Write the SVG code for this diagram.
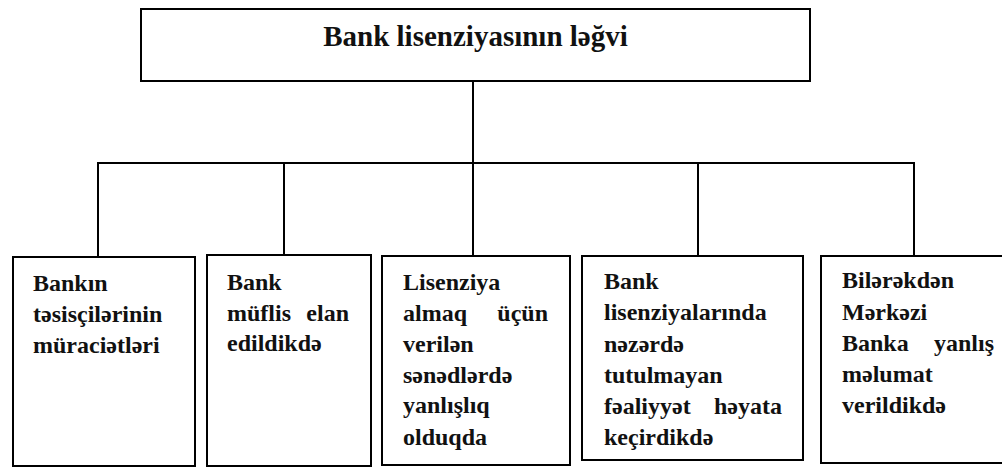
<svg xmlns="http://www.w3.org/2000/svg" width="1002" height="468" viewBox="0 0 1002 468">
<style>
.box{fill:#fff;stroke:#000;stroke-width:2}
.ln{stroke:#000;stroke-width:2;fill:none}
.t{font-family:"Liberation Serif","Times New Roman",serif;font-weight:bold;font-size:24px;fill:#111}
.title{font-family:"Liberation Serif","Times New Roman",serif;font-weight:bold;font-size:29px;fill:#111}
.e{text-anchor:end}
</style>
<rect width="1002" height="468" fill="#fff"/>
<g id="connectors">
<line class="ln" x1="473" y1="81" x2="473" y2="163"/>
<line class="ln" x1="97" y1="163" x2="915" y2="163"/>
<line class="ln" x1="98" y1="163" x2="98" y2="257"/>
<line class="ln" x1="284" y1="163" x2="284" y2="255"/>
<line class="ln" x1="473" y1="163" x2="473" y2="256"/>
<line class="ln" x1="698" y1="163" x2="698" y2="256"/>
<line class="ln" x1="914" y1="163" x2="914" y2="256"/>
</g>
<g id="root">
<rect class="box" x="141" y="9" width="669" height="72"/>
<text class="title" x="475.5" y="46" text-anchor="middle">Bank lisenziyasının ləğvi</text>
</g>
<g id="n1">
<rect class="box" x="13" y="257" width="182" height="209"/>
<text class="t" x="33" y="291">Bankın</text>
<text class="t" x="33" y="322">təsisçilərinin</text>
<text class="t" x="33" y="353">müraciətləri</text>
</g>
<g id="n2">
<rect class="box" x="207" y="255" width="164" height="211"/>
<text class="t" x="227" y="290">Bank</text>
<text class="t" x="227" y="321">müflis</text>
<text class="t e" x="349" y="321">elan</text>
<text class="t" x="227" y="351">edildikdə</text>
</g>
<g id="n3">
<rect class="box" x="382" y="256" width="188" height="209"/>
<text class="t" x="403" y="290">Lisenziya</text>
<text class="t" x="403" y="321">almaq</text>
<text class="t e" x="548" y="321">üçün</text>
<text class="t" x="403" y="352">verilən</text>
<text class="t" x="403" y="383">sənədlərdə</text>
<text class="t" x="403" y="413">yanlışlıq</text>
<text class="t" x="403" y="445">olduqda</text>
</g>
<g id="n4">
<rect class="box" x="582" y="256" width="221" height="204"/>
<text class="t" x="604" y="289">Bank</text>
<text class="t" x="604" y="320">lisenziyalarında</text>
<text class="t" x="604" y="352">nəzərdə</text>
<text class="t" x="604" y="383">tutulmayan</text>
<text class="t" x="604" y="414">fəaliyyət</text>
<text class="t e" x="782" y="414">həyata</text>
<text class="t" x="604" y="445">keçirdikdə</text>
</g>
<g id="n5">
<rect class="box" x="821" y="256" width="185" height="207"/>
<text class="t" x="842" y="288">Bilərəkdən</text>
<text class="t" x="842" y="320">Mərkəzi</text>
<text class="t" x="842" y="351">Banka</text>
<text class="t e" x="994" y="351">yanlış</text>
<text class="t" x="842" y="382">məlumat</text>
<text class="t" x="842" y="413">verildikdə</text>
</g>
</svg>
